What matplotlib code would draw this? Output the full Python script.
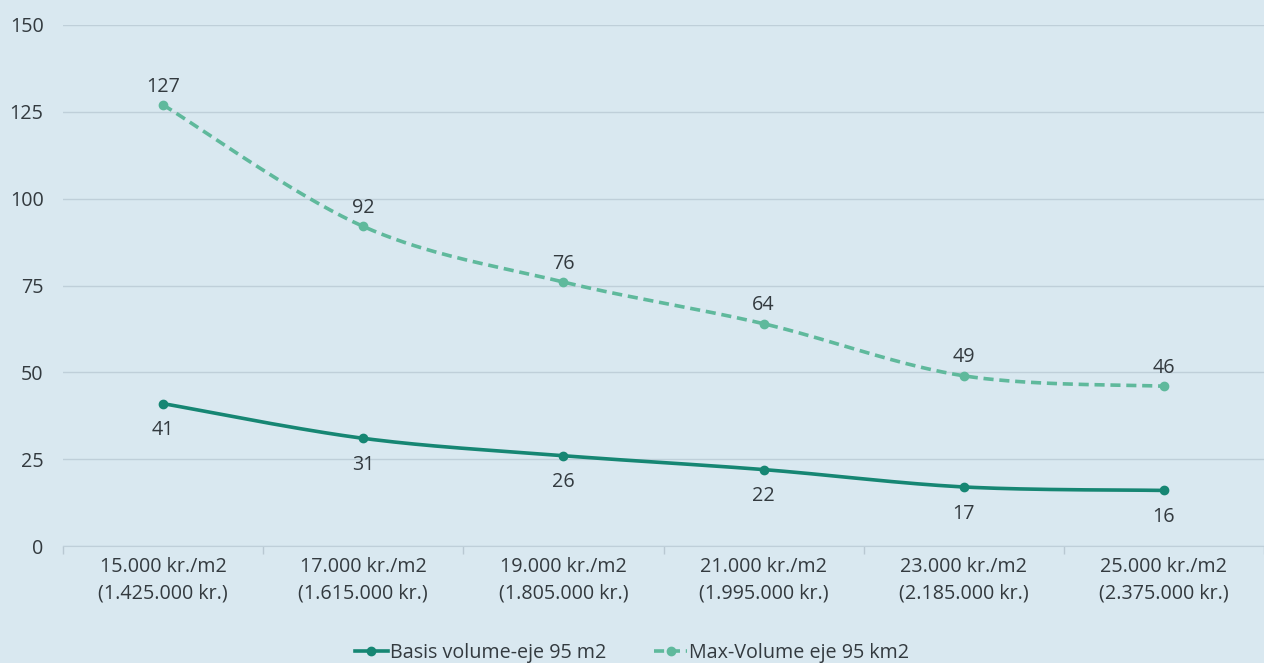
import numpy as np
import matplotlib.pyplot as plt

plt.rcParams['font.family'] = ['Open Sans', 'DejaVu Sans']

categories = ['15.000 kr./m2\n(1.425.000 kr.)', '17.000 kr./m2\n(1.615.000 kr.)',
              '19.000 kr./m2\n(1.805.000 kr.)', '21.000 kr./m2\n(1.995.000 kr.)',
              '23.000 kr./m2\n(2.185.000 kr.)', '25.000 kr./m2\n(2.375.000 kr.)']
basis = [41, 31, 26, 22, 17, 16]
max_volume = [127, 92, 76, 64, 49, 46]
yticks = [0, 25, 50, 75, 100, 125, 150]

BG = '#d9e8f0'
TEXT = '#333a3f'
DARK = '#168673'
LIGHT = '#5fb99c'
FS = 14.2
DASH = (0, (2.8, 1.6))


def smooth(x, y, n=40):
    # Catmull-Rom through the points, like a spreadsheet "smoothed line"
    x = np.asarray(x, float)
    y = np.asarray(y, float)
    px = np.concatenate([[x[0]], x, [x[-1]]])
    py = np.concatenate([[y[0]], y, [y[-1]]])
    xs, ys = [], []
    t = np.linspace(0, 1, n)
    for i in range(1, len(px) - 2):
        for p, out in ((px, xs), (py, ys)):
            p0, p1, p2, p3 = p[i - 1], p[i], p[i + 1], p[i + 2]
            out.extend(0.5 * ((2 * p1) + (-p0 + p2) * t
                              + (2 * p0 - 5 * p1 + 4 * p2 - p3) * t ** 2
                              + (-p0 + 3 * p1 - 3 * p2 + p3) * t ** 3))
    return np.array(xs), np.array(ys)


fig = plt.figure(figsize=(12.64, 6.63), dpi=100, facecolor=BG)
ax = fig.add_axes([63 / 1264, 117 / 663, 1201 / 1264, 521 / 663], facecolor=BG)

x = np.arange(len(categories))

sx, sy = smooth(x, basis)
ax.plot(sx, sy, color=DARK, lw=2.6, solid_capstyle='round', zorder=3)
ax.plot(x, basis, 'o', color=DARK, ms=6, zorder=4)

sx, sy = smooth(x, max_volume)
ax.plot(sx, sy, color=LIGHT, lw=2.6, ls=DASH, zorder=3)
ax.plot(x, max_volume, 'o', color=LIGHT, ms=6, zorder=4)

for xi, v in zip(x, basis):
    ax.annotate(str(v), (xi, v), xytext=(0, -12), textcoords='offset points',
                ha='center', va='top', fontsize=FS, color=TEXT)
for xi, v in zip(x, max_volume):
    ax.annotate(str(v), (xi, v), xytext=(0, 6), textcoords='offset points',
                ha='center', va='bottom', fontsize=FS, color=TEXT)

ax.set_xlim(-0.5, len(categories) - 0.5)
ax.set_ylim(0, 150)
ax.set_yticks(yticks)
ax.set_xticks(x)
ax.set_xticklabels(categories, fontsize=FS, color=TEXT, linespacing=1.4)
ax.set_xticks(np.arange(len(categories) + 1) - 0.5, minor=True)
ax.tick_params(axis='x', which='major', length=0, pad=8)
ax.tick_params(axis='x', which='minor', length=6, color='#b9c8d2', width=1)
ax.tick_params(axis='y', length=0, pad=14, labelsize=FS, labelcolor=TEXT)

ax.grid(axis='y', color='#bfcfd9', lw=1)
ax.set_axisbelow(True)
for s in ax.spines.values():
    s.set_visible(False)
ax.spines['bottom'].set_visible(True)
ax.spines['bottom'].set_color('#bfcfd9')

h1, = ax.plot([], [], color=DARK, lw=2.6, marker='o', ms=6)
h2, = ax.plot([], [], color=LIGHT, lw=2.6, ls=DASH, marker='o', ms=6)
fig.legend([h1, h2], ['Basis volume-eje 95 m2', 'Max-Volume eje 95 km2'],
           loc='lower center', bbox_to_anchor=(0.5, -0.027), ncol=2, frameon=False,
           fontsize=FS, labelcolor=TEXT, handlelength=1.7, handletextpad=0.1,
           columnspacing=2.4)

fig.savefig('out.png', dpi=100, facecolor=BG)
